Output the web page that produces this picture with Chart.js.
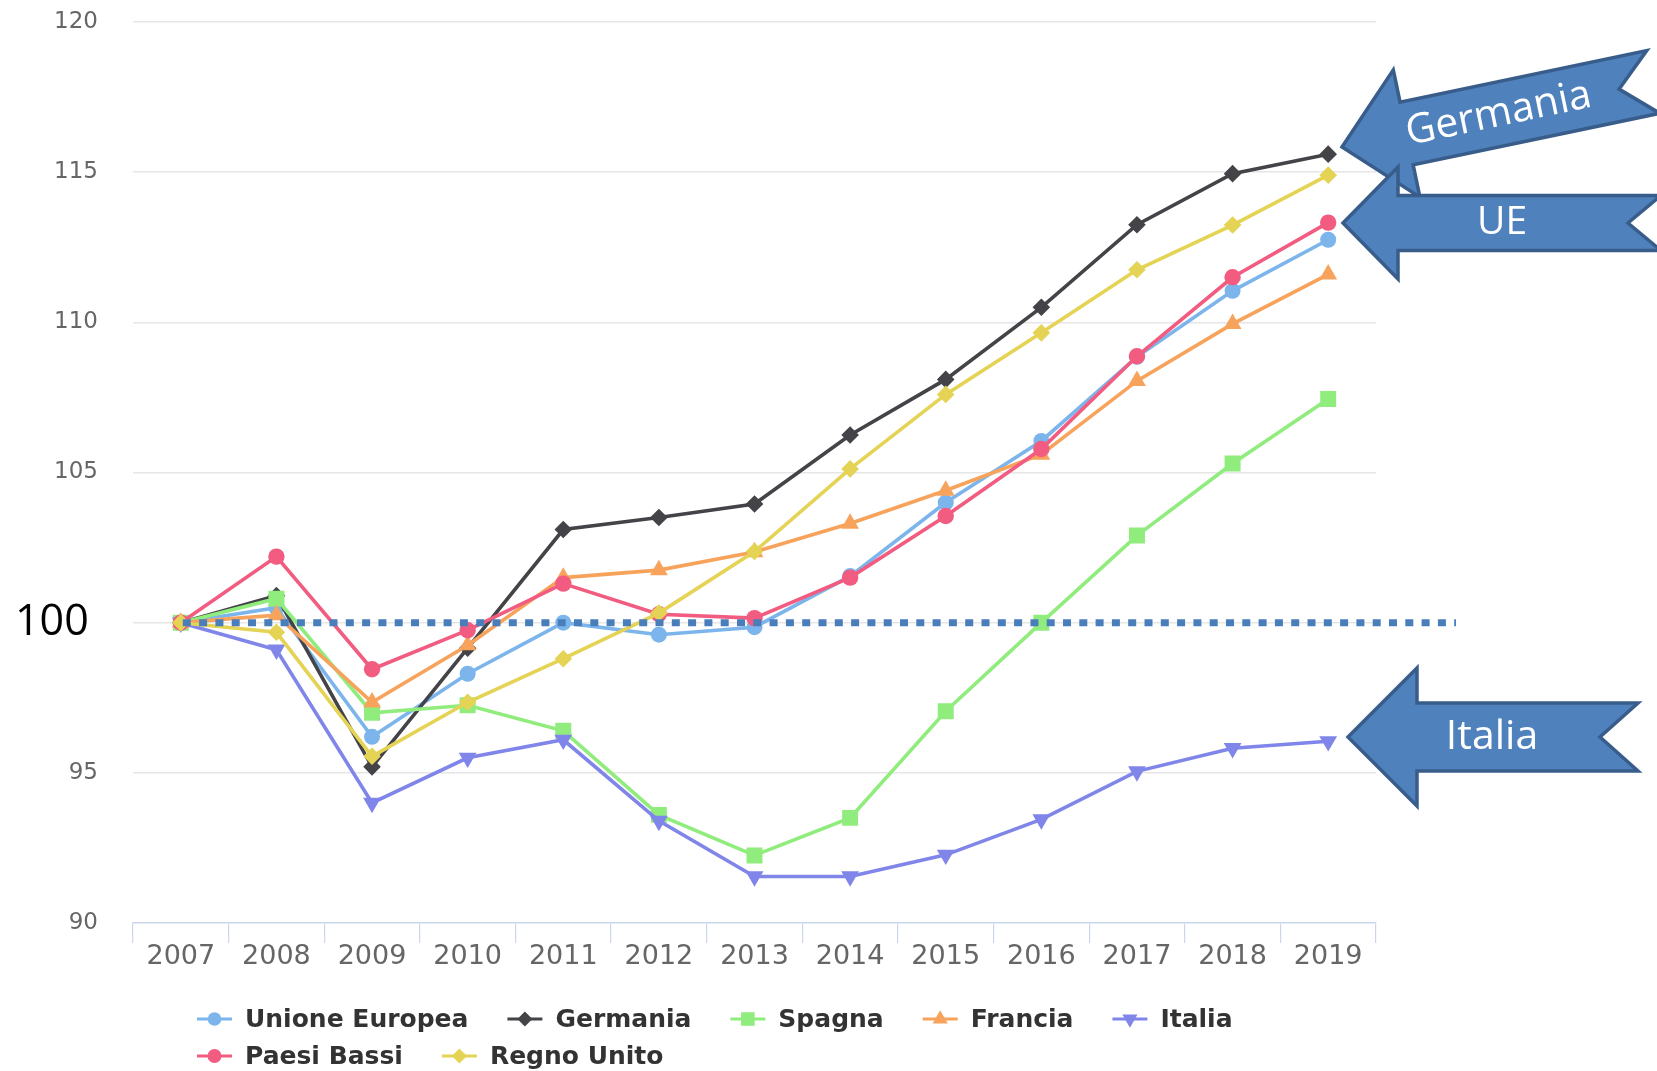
<!DOCTYPE html>
<html>
<head>
<meta charset="utf-8">
<script src="https://cdn.jsdelivr.net/npm/chart.js@4.4.1/dist/chart.umd.min.js"></script>
<style>
html,body{margin:0;padding:0;background:#ffffff;overflow:hidden}
canvas{display:block}
</style>
</head>
<body>
<canvas id="c" width="1657" height="1071"></canvas>
<script>
// ---------- data ----------
const years = ['2007','2008','2009','2010','2011','2012','2013','2014','2015','2016','2017','2018','2019'];
const unioneEuropea = [100, 100.5, 96.2, 98.3, 100.0, 99.6, 99.85, 101.55, 104.0, 106.05, 108.85, 111.05, 112.75];
const germania      = [100, 100.9, 95.2, 99.15, 103.1, 103.5, 103.95, 106.25, 108.1, 110.5, 113.25, 114.95, 115.6];
const spagna        = [100, 100.8, 97.0, 97.25, 96.4, 93.6, 92.25, 93.5, 97.05, 100.0, 102.9, 105.3, 107.45];
const francia       = [100, 100.25, 97.35, 99.25, 101.5, 101.75, 102.35, 103.3, 104.4, 105.6, 108.05, 109.95, 111.6];
const italia        = [100, 99.1, 94.0, 95.5, 96.1, 93.4, 91.55, 91.55, 92.27, 93.45, 95.05, 95.82, 96.05];
const paesiBassi    = [100, 102.2, 98.45, 99.75, 101.3, 100.28, 100.15, 101.5, 103.55, 105.78, 108.87, 111.5, 113.32];
const regnoUnito    = [100, 99.68, 95.55, 97.35, 98.8, 100.32, 102.37, 105.12, 107.6, 109.65, 111.75, 113.24, 114.9];
const seriesNames   = ['Unione Europea','Germania','Spagna','Francia','Italia','Paesi Bassi','Regno Unito'];
const yTickValues   = [90, 95, 100, 105, 110, 115, 120];
const baselineValue = 100;
const baselineLabel = '100';
const arrowLabels   = ['Germania', 'UE', 'Italia'];

// ---------- styles ----------
const colors = ['#7cb5ec','#434348','#90ed7d','#f7a35c','#8085e9','#f15c80','#e4d354'];
const styles = [
  {ps:'circle', r:8, rot:0},
  {ps:'rectRot', r:8.8, rot:0},
  {ps:'rect', r:11.3, rot:0},
  {ps:'triangle', r:10.3, rot:0},
  {ps:'triangle', r:10.3, rot:180},
  {ps:'circle', r:8.2, rot:0},
  {ps:'rectRot', r:8.8, rot:0}
];
const values = [unioneEuropea, germania, spagna, francia, italia, paesiBassi, regnoUnito];

const datasets = values.map((v, i) => ({
  label: seriesNames[i],
  data: v,
  borderColor: colors[i],
  backgroundColor: colors[i],
  pointBackgroundColor: colors[i],
  pointBorderWidth: 0,
  pointStyle: styles[i].ps,
  pointRadius: styles[i].r,
  pointRotation: styles[i].rot,
  borderWidth: 3.6,
  tension: 0,
  order: -i
}));

function legendMarker(ctx, style, x, y, color) {
  ctx.save();
  ctx.fillStyle = color;
  ctx.translate(x, y);
  ctx.beginPath();
  const r = style.r * 0.85;
  if (style.ps === 'circle') {
    ctx.arc(0, 0, r, 0, Math.PI * 2);
  } else if (style.ps === 'rectRot') {
    ctx.moveTo(0, -r); ctx.lineTo(r, 0); ctx.lineTo(0, r); ctx.lineTo(-r, 0);
  } else if (style.ps === 'rect') {
    const s = r * Math.SQRT1_2;
    ctx.rect(-s, -s, 2 * s, 2 * s);
  } else if (style.ps === 'triangle') {
    ctx.rotate(style.rot * Math.PI / 180);
    ctx.moveTo(0, -r);
    ctx.lineTo(r * 0.866, r * 0.5);
    ctx.lineTo(-r * 0.866, r * 0.5);
  }
  ctx.closePath();
  ctx.fill();
  ctx.restore();
}

function drawArrow(ctx, o) {
  ctx.save();
  ctx.translate(o.x, o.y);
  ctx.rotate(o.angle * Math.PI / 180);
  ctx.beginPath();
  ctx.moveTo(0, 0);
  ctx.lineTo(o.H, -o.Hh);
  ctx.lineTo(o.H, -o.Sh);
  ctx.lineTo(o.L, -o.Sh);
  ctx.lineTo(o.L - o.N, 0);
  ctx.lineTo(o.L, o.Sh);
  ctx.lineTo(o.H, o.Sh);
  ctx.lineTo(o.H, o.Hh);
  ctx.closePath();
  ctx.fillStyle = '#4f81bd';
  ctx.fill();
  ctx.lineJoin = 'miter';
  ctx.lineWidth = 3.5;
  ctx.strokeStyle = '#385d8a';
  ctx.stroke();
  ctx.fillStyle = '#ffffff';
  ctx.font = o.fs + 'px "Open Sans"';
  ctx.textAlign = 'center';
  ctx.textBaseline = 'middle';
  ctx.fillText(o.text, o.tx, 0);
  ctx.restore();
}

const overlay = {
  id: 'overlay',
  afterDatasetsDraw(chart) {
    const ctx = chart.ctx;
    const ys = chart.scales.y, xs = chart.scales.x;
    const y = ys.getPixelForValue(baselineValue);
    const x0 = xs.getPixelForValue(0) + 2;
    ctx.save();
    ctx.strokeStyle = '#4a7ebb';
    ctx.lineWidth = 7;
    ctx.lineCap = 'butt';
    ctx.setLineDash([8, 8.3]);
    ctx.beginPath();
    ctx.moveTo(x0, y);
    ctx.lineTo(1456, y);
    ctx.stroke();
    ctx.restore();
  },
  afterDraw(chart) {
    const ctx = chart.ctx;
    const ys = chart.scales.y;
    // big "100" label
    ctx.save();
    ctx.fillStyle = '#000000';
    ctx.font = '43px "Open Sans"';
    ctx.textAlign = 'left';
    ctx.textBaseline = 'middle';
    ctx.fillText(baselineLabel, 15, ys.getPixelForValue(baselineValue));
    ctx.restore();

    // legend
    const rows = [[0,1,2,3,4],[5,6]];
    const rowY = [1019, 1056];
    ctx.save();
    ctx.font = 'bold 25px "DejaVu Sans"';
    ctx.textBaseline = 'middle';
    ctx.textAlign = 'left';
    rows.forEach((row, ri) => {
      let x = 197;
      const y = rowY[ri];
      row.forEach(i => {
        ctx.strokeStyle = colors[i];
        ctx.lineWidth = 3.2;
        ctx.beginPath();
        ctx.moveTo(x, y);
        ctx.lineTo(x + 35, y);
        ctx.stroke();
        legendMarker(ctx, styles[i], x + 17.5, y, colors[i]);
        ctx.fillStyle = '#333333';
        ctx.fillText(seriesNames[i], x + 48, y + 1);
        x += 48 + ctx.measureText(seriesNames[i]).width + 39;
      });
    });
    ctx.restore();

    // arrows
    drawArrow(ctx, {x:1342, y:147, angle:-11.8, L:318, H:66, Hh:65, Sh:32, N:35, text:arrowLabels[0], fs:41, tx:160});
    drawArrow(ctx, {x:1343, y:223, angle:0, L:318, H:55, Hh:56, Sh:27.5, N:33, text:arrowLabels[1], fs:39, tx:159});
    drawArrow(ctx, {x:1348, y:737, angle:0, L:290, H:69, Hh:69, Sh:34, N:38, text:arrowLabels[2], fs:41, tx:144});
  }
};

new Chart(document.getElementById('c'), {
  type: 'line',
  data: { labels: years, datasets: datasets },
  options: {
    responsive: false,
    animation: false,
    devicePixelRatio: 1,
    layout: { padding: { top: 22, right: 281, bottom: 100, left: 0 } },
    plugins: { legend: { display: false }, tooltip: { enabled: false } },
    scales: {
      x: {
        type: 'category',
        offset: true,
        grid: { offset: true, drawOnChartArea: false, drawTicks: true, tickLength: 20, color: '#ccd6eb', lineWidth: 1.2 },
        border: { display: true, color: '#ccd6eb', width: 1.6 },
        ticks: { color: '#666666', font: { family: 'DejaVu Sans', size: 27, lineHeight: 1 }, padding: 0, maxRotation: 0, autoSkip: false },
        afterFit(scale) { scale.height = 48; scale.paddingLeft = 0; scale.paddingRight = 0; }
      },
      y: {
        min: yTickValues[0],
        max: yTickValues[yTickValues.length - 1],
        afterBuildTicks(scale) { scale.ticks = yTickValues.map(v => ({ value: v })); },
        grid: {
          drawTicks: false,
          lineWidth: 1.5,
          color: (c) => (c.tick && c.tick.value === yTickValues[0]) ? 'rgba(0,0,0,0)' : '#e6e6e6'
        },
        border: { display: false },
        ticks: {
          color: (c) => (c.tick && c.tick.value === baselineValue) ? 'rgba(0,0,0,0)' : '#666666',
          font: { family: 'DejaVu Sans', size: 23 },
          padding: 35
        },
        afterFit(scale) { scale.width = 133; scale.paddingTop = 0; scale.paddingBottom = 0; }
      }
    }
  },
  plugins: [overlay]
});
</script>
</body>
</html>
